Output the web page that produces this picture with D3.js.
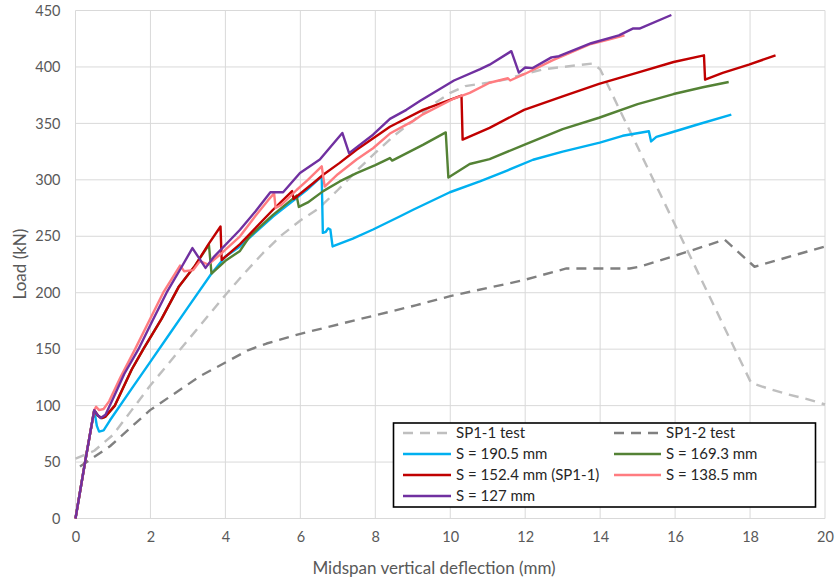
<!DOCTYPE html>
<html><head><meta charset="utf-8">
<script src="https://cdn.jsdelivr.net/npm/d3@7"></script>
<style>
html,body{margin:0;padding:0;background:#fff;}
svg{display:block;font-family:Lato,"Open Sans",sans-serif;}
</style></head>
<body><svg id="chart" width="836" height="583"></svg>
<script>
// ---- data ----
const xTicks = [0,2,4,6,8,10,12,14,16,18,20];
const yTicks = [0,50,100,150,200,250,300,350,400,450];
const xTitle = "Midspan vertical deflection (mm)";
const yTitle = "Load (kN)";

const seriesNames = ["SP1-1 test","SP1-2 test","S = 190.5 mm","S = 169.3 mm","S = 152.4 mm (SP1-1)","S = 138.5 mm","S = 127 mm"];

const sp11 = [[0,53],[0.5,60],[1,74],[1.5,96],[2,118],[2.5,138],[3,158],[3.5,178],[4,198],[4.5,217],[5,235],[5.5,251],[6,264],[6.5,275],[7,291],[7.5,308],[8,324],[8.5,339],[9,352],[9.5,366],[10,377],[10.4,383],[11,386],[11.5,389],[12,394],[12.5,398],[13,400],[13.8,403],[14,398],[18.03,120],[18.5,115],[19,110],[19.5,106],[20,101]];
const sp12 = [[0.12,46],[0.47,54],[0.92,64],[1.99,96],[3.32,126],[4.6,149],[5.1,155],[6,163.6],[8,180],[9.1,189],[10,197],[11.94,211],[13.1,221.5],[14.79,221.5],[15.05,223],[16.21,235],[17.32,247],[18.12,223],[20,241]];
const s1905 = [[0,0],[0.25,49],[0.5,96],[0.57,82],[0.63,77],[0.75,78],[0.92,87],[1.5,115],[2,139],[2.5,163],[3,187],[3.63,217],[4,232],[4.39,241],[5.27,267.5],[6.17,291],[6.57,303],[6.6,253],[6.68,254],[6.74,257],[6.8,256],[6.86,241],[7.4,248],[7.94,256],[8.65,267.5],[9.01,273.5],[9.99,289],[10.79,298.6],[11.5,308],[12.21,317.8],[13,325],[13.99,333],[14.6,339],[15.3,343],[15.36,334],[15.5,338],[15.85,341.5],[16.6,349],[17.5,357.7]];
const s1693 = [[0,0],[0.25,49],[0.5,96],[0.6,91],[0.7,89],[0.79,90],[1.05,100],[1.5,132],[1.81,150],[2.3,177],[2.75,205],[3.19,224],[3.56,242.5],[3.63,217],[4.03,229],[4.39,237],[4.65,250],[5.27,269],[5.9,286],[5.96,276],[6.2,280],[6.61,290],[7.05,298.6],[7.5,306],[8,313],[8.39,319.3],[8.45,317],[9.27,331],[9.88,342],[9.95,302],[10.52,314],[11.05,318.4],[11.97,331],[13,345],[13.97,355],[15,367],[15.96,376],[16.74,382],[17.43,386.7]];
const s1524 = [[0,0],[0.25,49],[0.5,96],[0.6,91],[0.7,89],[0.79,90],[1.05,100],[1.5,132],[1.81,150],[2.3,177],[2.75,205],[3.19,224],[3.55,243],[3.87,258.7],[3.9,229],[4.39,243],[5.27,273.5],[5.78,290],[5.82,283],[6.34,297],[6.61,304.5],[7.05,315],[7.5,326.7],[8.39,347],[9.27,362],[10.3,374.6],[10.33,335.6],[11.05,346],[11.97,362],[13,374],[13.97,385],[15,395],[15.96,404.4],[16.77,410.3],[16.8,388.7],[17.27,394.7],[17.97,402],[18.68,410.3]];
const s1385 = [[0,0],[0.25,49],[0.5,96],[0.55,99],[0.63,96],[0.75,97],[0.9,104],[1.2,125],[1.59,150],[2.34,200],[2.79,224],[2.9,219],[3.14,220],[3.32,228],[3.54,225],[3.9,235],[4.39,250],[4.8,268],[5.14,282],[5.3,288],[5.34,275],[5.5,278],[5.9,291],[6.2,300],[6.57,312],[6.65,294],[7,305],[7.5,318],[7.94,328],[8.39,341],[9,352],[9.27,358],[10.1,372],[10.52,377],[11.05,386],[11.54,390],[11.6,388],[12,394],[12.74,406],[13.72,420],[14.2,424],[14.65,428]];
const s127 = [[0,0],[0.25,49],[0.5,96],[0.58,92],[0.67,89],[0.8,92],[1,106],[1.3,128],[1.68,150],[2.05,175],[2.43,200],[2.8,221],[3.12,239.5],[3.47,222],[3.7,232],[4.39,255.8],[4.8,272],[5.2,289],[5.54,289],[5.99,306],[6.52,318],[7.12,341.5],[7.3,323.7],[7.94,340],[8.39,354],[8.83,362],[9.2,370],[10.1,388],[10.8,398],[11.05,402],[11.63,414],[11.83,395],[12,399.5],[12.2,399],[12.7,408.5],[12.9,409.5],[13.76,421],[14.5,428],[14.87,434],[15.05,434],[15.9,446]];

const seriesData = [sp11, sp12, s1905, s1693, s1524, s1385, s127];
const seriesColors = ["#BFBFBF","#808080","#00B0F0","#548235","#C00000","#FF7C80","#7030A0"];
const seriesDashed = [true,true,false,false,false,false,false];

// ---- layout ----
const svg = d3.select("#chart");
const m = {left:75.5, right:825, top:10.5, bottom:518.5};
const x = d3.scaleLinear().domain([0,20]).range([m.left,m.right]);
const y = d3.scaleLinear().domain([0,450]).range([m.bottom,m.top]);

const grid = svg.append("g");
grid.selectAll("line.h").data(yTicks).enter().append("line")
  .attr("x1",m.left).attr("x2",m.right)
  .attr("y1",d=>y(d)).attr("y2",d=>y(d))
  .attr("stroke","#D9D9D9").attr("stroke-width",1);
grid.selectAll("line.v").data(xTicks).enter().append("line")
  .attr("y1",m.top).attr("y2",m.bottom)
  .attr("x1",d=>x(d)).attr("x2",d=>x(d))
  .attr("stroke","#D9D9D9").attr("stroke-width",1);

// axes
const yAxis = svg.append("g").attr("transform",`translate(${m.left},0)`)
  .call(d3.axisLeft(y).tickValues(yTicks).tickSize(0).tickPadding(15));
const xAxis = svg.append("g").attr("transform",`translate(0,${m.bottom})`)
  .call(d3.axisBottom(x).tickValues(xTicks).tickSize(0).tickPadding(13));
[yAxis,xAxis].forEach(a=>{
  a.select(".domain").remove();
  a.selectAll("text").attr("fill","#595959").style("font-size","14.5px").style("font-family","Lato, sans-serif");
});

svg.append("text").attr("x",434).attr("y",574).attr("text-anchor","middle")
  .attr("fill","#595959").style("font-size","17px").text(xTitle);
svg.append("text").attr("transform","translate(26,264) rotate(-90)").attr("text-anchor","middle")
  .attr("fill","#595959").style("font-size","17px").text(yTitle);

// lines
const line = d3.line().x(d=>x(d[0])).y(d=>y(d[1]));
const plot = svg.append("g");
seriesData.forEach((data,i)=>{
  plot.append("path").attr("d",line(data)).attr("fill","none")
    .attr("stroke",seriesColors[i]).attr("stroke-width",2.4)
    .attr("stroke-linejoin","round")
    .attr("stroke-dasharray",seriesDashed[i]?"10,7":null);
});

// legend
const lg = svg.append("g");
lg.append("rect").attr("x",393.5).attr("y",423).attr("width",422).attr("height",84)
  .attr("fill","#fff").attr("stroke","#000").attr("stroke-width",1.6);
const rowY = [433,454,475,496];
const colX = [[403,451,456],[614,661,666]];
seriesNames.forEach((name,i)=>{
  const r = Math.floor(i/2), c = i%2;
  const yy = rowY[r];
  lg.append("line").attr("x1",colX[c][0]).attr("x2",colX[c][1]).attr("y1",yy).attr("y2",yy)
    .attr("stroke",seriesColors[i]).attr("stroke-width",2.4)
    .attr("stroke-dasharray",seriesDashed[i]?"10,7":null);
  lg.append("text").attr("x",colX[c][2]).attr("y",yy).attr("dy","0.35em")
    .attr("fill","#262626").style("font-size","15px").text(name);
});
</script>
</body></html>
